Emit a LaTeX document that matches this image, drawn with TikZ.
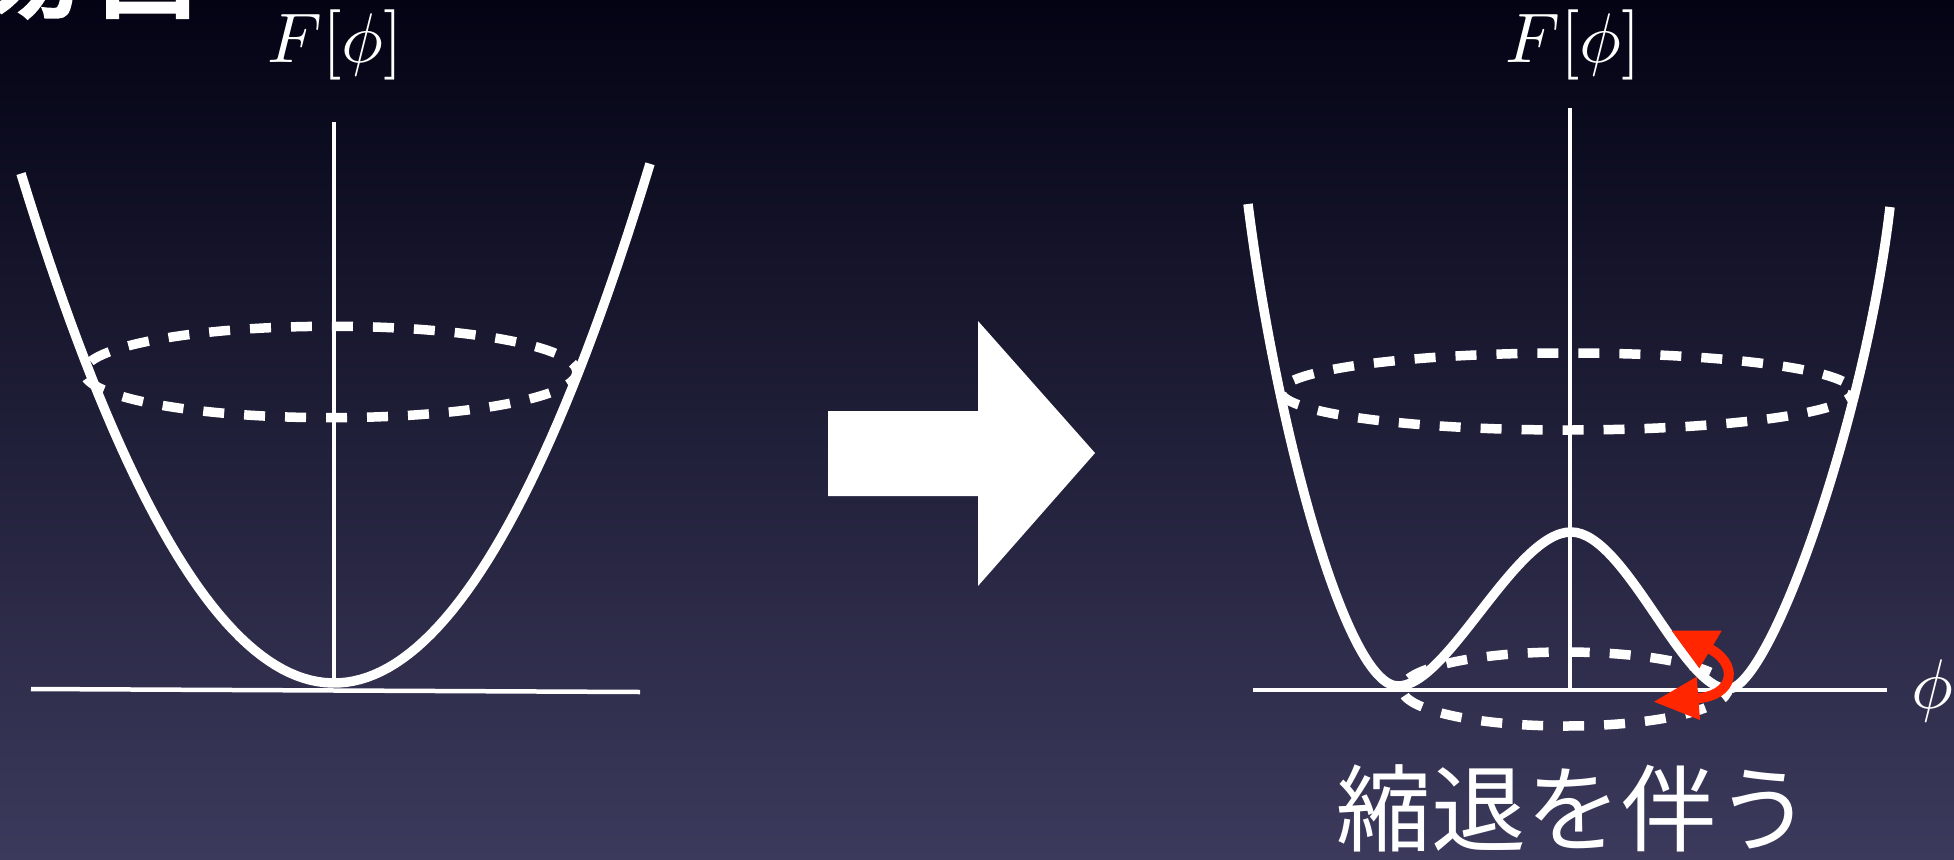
\documentclass[tikz,border=0pt]{standalone}
\usepackage{fontspec}
\newfontfamily\cjk{Noto Sans CJK JP}
\newfontfamily\cjkbold[FakeBold=2.5]{Noto Sans CJK JP}
\definecolor{bgtop}{RGB}{3,3,20}
\definecolor{bgbot}{RGB}{60,58,92}
\definecolor{arrowred}{RGB}{255,38,0}
\tikzset{
  axisline/.style={white, line width=0.09cm},
  curveline/.style={white, line width=0.19cm, line join=round},
  dashring/.style={white, line width=0.19cm, dash pattern=on 0.42cm off 0.4cm},
  mathlbl/.style={white, font=\normalsize, inner sep=0pt, scale=4},
}
\begin{document}
\begin{tikzpicture}[x=0.02cm, y=-0.02cm]
\useasboundingbox (0,0) rectangle (1954,859);
\shade[top color=bgtop, bottom color=bgbot] (0,0) rectangle (1954,859);

% cut-off title
\node[anchor=base west, inner sep=0pt, white, font=\cjkbold\fontsize{74}{80}\selectfont] (title) at (-48,7) {場合};

% ---------- left panel ----------
\node[mathlbl, anchor=base] (FL) at (335,62) {$F[\phi]$};
\coordinate (LHa) at (31,689);
\coordinate (LHb) at (640,692);
\coordinate (LVa) at (334,122);
\coordinate (LVb) at (334,683);
\draw[axisline] (LHa) -- (LHb);
\draw[axisline] (LVa) -- (LVb);
\draw[dashring, dash phase=0.1cm] (330.5,372) ellipse [x radius=246.5, y radius=45.7];
\draw[curveline] plot[domain=21:650, samples=90] (\x, {683 - 52*((\x-334)/100)^2});

% ---------- big arrow ----------
\fill[white] (828,411) -- (978,411) -- (978,321) -- (1095,453) -- (978,586) -- (978,496) -- (828,496) -- cycle;

% ---------- right panel ----------
\node[mathlbl, anchor=base] (FR) at (1573,62) {$F[\phi]$};
\node[mathlbl, anchor=base] (phi) at (1932,708) {$\phi$};
\coordinate (RHa) at (1253,690);
\coordinate (RHb) at (1887,690);
\coordinate (RVa) at (1570,108);
\coordinate (RVb) at (1570,690);
\draw[axisline] (RHa) -- (RHb);
\draw[axisline] (RVa) -- (RVb);
\draw[dashring, dash phase=0.2cm] (1567,391.5) ellipse [x radius=286, y radius=38.5];
\draw[dashring, dash phase=0.2cm] (1565,689) ellipse [x radius=163, y radius=37];
\draw[curveline] (1248,204) .. controls (1275,420) and (1345,686) .. (1398,686)
  .. controls (1448,686) and (1515,532) .. (1571,532)
  .. controls (1625,532) and (1682,689) .. (1728,689)
  .. controls (1770,689) and (1865,420) .. (1890,207);

% red curved double arrow
\fill[arrowred] (1671.7,630.7) -- (1721.7,630.7) -- (1699.3,668.3) -- cycle;
\fill[arrowred] (1654,701.7) -- (1696.7,676.7) -- (1700,720) -- cycle;
\draw[arrowred, line width=0.2cm] (1706,647) .. controls (1740,662) and (1736,697) .. (1694,698.5);

% caption
\node[white, inner sep=0pt, font=\cjk\fontsize{54}{60}\selectfont] (cap) at (1574,808) {縮退を伴う};
\end{tikzpicture}
\end{document}
